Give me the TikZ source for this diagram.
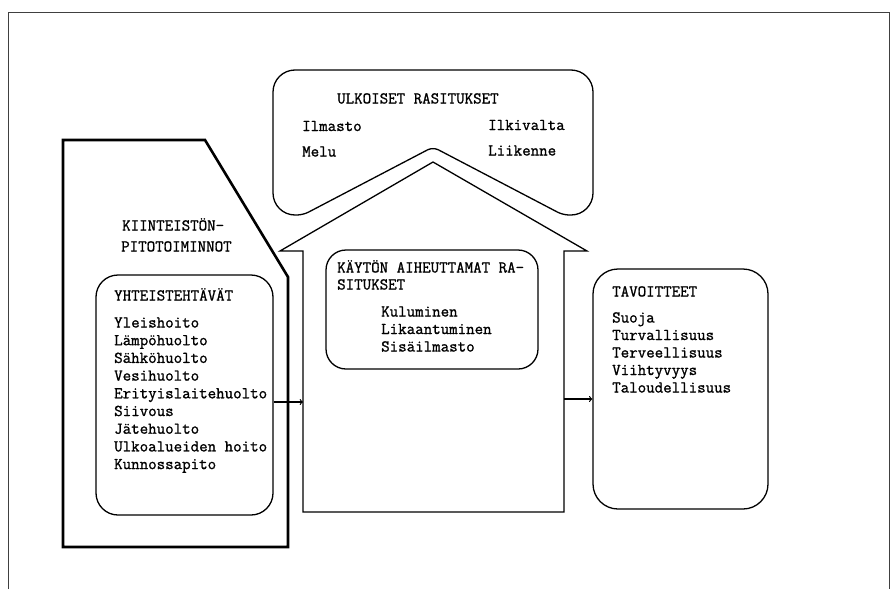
\documentclass[tikz,border=0pt]{standalone}
\usepackage{fontspec}
\setmonofont{Latin Modern Mono}[FakeBold=1.2]
\usepackage{tikz}
\begin{document}
\begin{tikzpicture}[x=1pt,y=-1pt]
\tikzstyle{frame}=[draw=black!75, line width=0.9pt]
\tikzstyle{unit}=[draw=black, line width=2.6pt, line join=miter]
\tikzstyle{shell}=[draw=black, line width=1.3pt, line join=miter]
\tikzstyle{box}=[rectangle, rounded corners=22pt, draw=black, line width=1.3pt, inner sep=0pt]
\tikzstyle{txt}=[anchor=base west, inner sep=0pt, font=\ttfamily\fontsize{16.5}{17.6}\selectfont]
\tikzstyle{connect}=[->, line width=1.2pt]
\useasboundingbox (0,0) rectangle (896,589);
\draw[frame] (8,589) -- (8,12) -- (889,12) -- (889,589);

	% kiinteistonpito
	\draw[unit] (63,140) -- (205,140) -- (288,277) -- (288,547) -- (63,547) -- cycle;
	\node[txt] (k_1) at (122,230.5) {KIINTEISTÖN-};
	\node[txt] (k_2) at (121,251.5) {PITOTOIMINNOT};

	% ulkoiset rasitukset and the house
	\draw[shell] (433,70) [rounded corners=22pt] -- (273,70) -- (273,215) [rounded corners=6pt] -- (303,215)
		-- (433,147) -- (563,215) [rounded corners=22pt] -- (593,215) -- (593,70) -- cycle;
	\draw[shell] (303,512) -- (303,251) -- (280,251) -- (433,162) -- (587,251) -- (564,251) -- (564,512) -- cycle;
	\coordinate (hw_l) at (303,402);
	\coordinate (hw_r) at (564,399);

	\node[txt] (u_0) at (337,103.5) {ULKOISET RASITUKSET};
	\node[txt] (u_1) at (302,131) {Ilmasto};
	\node[txt] (u_2) at (488,130) {Ilkivalta};
	\node[txt] (u_3) at (302,156.5) {Melu};
	\node[txt] (u_4) at (488,155.5) {Liikenne};

	% yhteistehtavat
	\node[box, minimum width=177pt, minimum height=240pt] (yht) at (184.5,395) {};
	\node[txt] (y_0) at (114,300.5) {YHTEISTEHTÄVÄT};
	\node[txt] (y_1) at (114,327.5) {Yleishoito};
	\node[txt] (y_2) at (114,345.2) {Lämpöhuolto};
	\node[txt] (y_3) at (114,362.9) {Sähköhuolto};
	\node[txt] (y_4) at (114,380.6) {Vesihuolto};
	\node[txt] (y_5) at (114,398.3) {Erityislaitehuolto};
	\node[txt] (y_6) at (114,416) {Siivous};
	\node[txt] (y_7) at (114,433.7) {Jätehuolto};
	\node[txt] (y_8) at (114,451.4) {Ulkoalueiden hoito};
	\node[txt] (y_9) at (114,469.1) {Kunnossapito};

	% kayton aiheuttamat rasitukset
	\node[box, rounded corners=20pt, minimum width=212pt, minimum height=119pt] (kay) at (432,309.5) {};
	\node[txt] (r_0) at (337,272.5) {KÄYTÖN AIHEUTTAMAT RA-};
	\node[txt] (r_1) at (337,289.5) {SITUKSET};
	\node[txt] (r_2) at (381,316.5) {Kuluminen};
	\node[txt] (r_3) at (381,334) {Likaantuminen};
	\node[txt] (r_4) at (381,351.5) {Sisäilmasto};

	% tavoitteet
	\node[box, rounded corners=25pt, minimum width=175pt, minimum height=240pt] (tav) at (680.5,389) {};
	\node[txt] (t_0) at (612,296.5) {TAVOITTEET};
	\node[txt] (t_1) at (612,322.5) {Suoja};
	\node[txt] (t_2) at (612,340) {Turvallisuus};
	\node[txt] (t_3) at (612,357.5) {Terveellisuus};
	\node[txt] (t_4) at (612,375) {Viihtyvyys};
	\node[txt] (t_5) at (612,392.5) {Taloudellisuus};

	\path[connect]
		(yht.east |- hw_l) edge [] (hw_l)
		(hw_r) edge [] (tav.west |- hw_r);

\end{tikzpicture}
\end{document}
